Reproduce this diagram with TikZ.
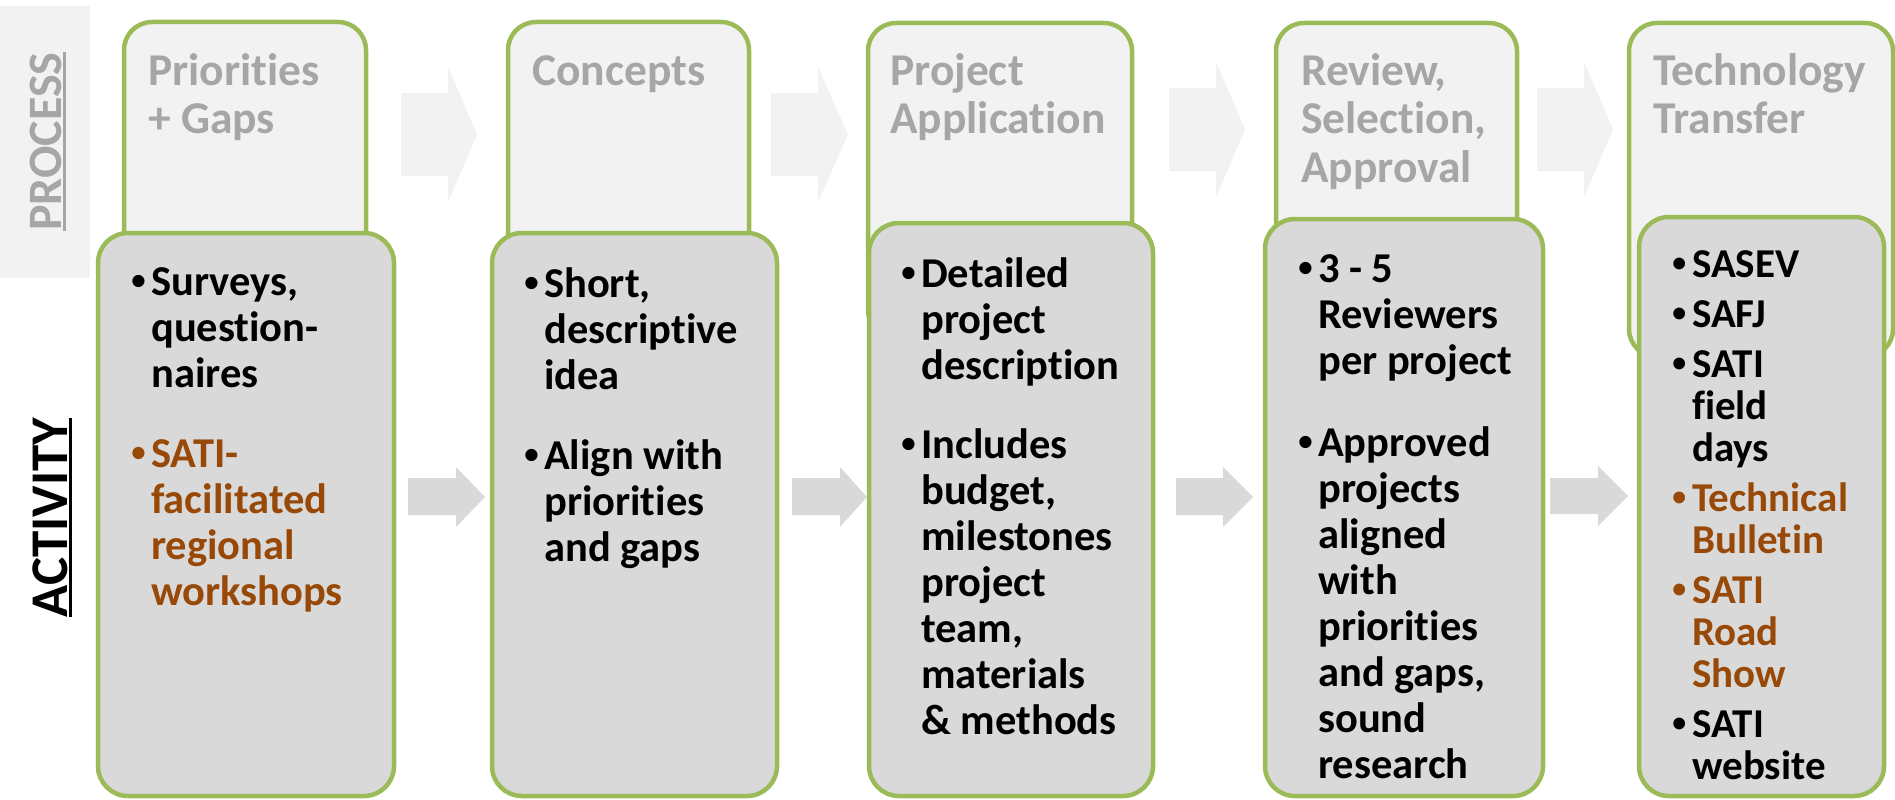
\documentclass[tikz,border=0pt]{standalone}
\usepackage{fontspec}
\setmainfont{Carlito}[Ligatures=NoCommon]
\newfontfamily\bulfont{Liberation Sans}
\definecolor{sgreen}{HTML}{9BBB59}
\definecolor{topfill}{HTML}{F2F2F2}
\definecolor{lowfill}{HTML}{D9D9D9}
\definecolor{titlegray}{HTML}{A6A6A6}
\definecolor{sbrown}{HTML}{984807}
\newcommand{\bul}{{\bulfont\char"2022}}
\newcommand{\bpar}[2][black]{\par\hangindent=20pt\hangafter=1\noindent\textcolor{#1}{\makebox[20pt][l]{\bul}#2}\par}
\newcommand{\myul}[1]{\setbox0\hbox{#1}\rlap{\rule[-5pt]{\wd0}{3pt}}\box0}
\newcommand{\boxtext}[1]{\begin{minipage}[t]{320pt}\parindent=0pt\lineskiplimit=-\maxdimen\hbadness=10000 #1\end{minipage}}
\tikzset{
  topbox/.style={draw=sgreen, line width=4.5pt, fill=topfill, rounded corners=28pt, inner sep=0pt},
  lowbox/.style={draw=sgreen, line width=4.5pt, fill=lowfill, rounded corners=30pt, inner sep=0pt},
  toparrow/.style={fill=topfill},
  lowarrow/.style={fill=lowfill},
  headtxt/.style={anchor=base west, inner sep=0pt, text=titlegray, font=\fontsize{45.5}{48.5}\selectfont\bfseries},
  lowtxt/.style={anchor=base west, inner sep=0pt, font=\fontsize{42.5}{46}\selectfont\bfseries},
  lowtxtsmall/.style={anchor=base west, inner sep=0pt, font=\fontsize{41}{42}\selectfont\bfseries},
  sidetxt/.style={anchor=base, inner sep=0pt, rotate=90}
}
\begin{document}
\begin{tikzpicture}[x=1pt, y=-1pt]
\useasboundingbox (0,0) rectangle (1895,800);
% process band
\node[fill=topfill, minimum width=90pt, minimum height=272pt, inner sep=0pt, anchor=north west] (band) at (0,6) {};
\node[sidetxt, text=titlegray, font=\fontsize{48}{52}\selectfont\bfseries] (proc) at (61,141.5) {\myul{PROCESS}};
\node[sidetxt, text=black, font=\fontsize{53}{58}\selectfont\bfseries] (act) at (67,517.5) {\myul{ACTIVITY}};
% top arrows
\fill[toparrow] (401,93) -- (448,93) -- (448,67) -- (477,134.5) -- (448,202) -- (448,176) -- (401,176) -- cycle;
\fill[toparrow] (771,93) -- (818,93) -- (818,67) -- (848,134.5) -- (818,202) -- (818,176) -- (771,176) -- cycle;
\fill[toparrow] (1169,88) -- (1216,88) -- (1216,62) -- (1245,129.5) -- (1216,197) -- (1216,171) -- (1169,171) -- cycle;
\fill[toparrow] (1537,88) -- (1584,88) -- (1584,62) -- (1613,129.5) -- (1584,197) -- (1584,171) -- (1537,171) -- cycle;
% top boxes
\node[topbox, minimum width=242pt, minimum height=278pt] (p1) at (245,161) {};
\node[topbox, minimum width=241pt, minimum height=278pt] (p2) at (628.5,161) {};
\node[topbox, minimum width=264pt, minimum height=315pt] (p3) at (1000,180.5) {};
\node[topbox, minimum width=241pt, minimum height=277pt] (p4) at (1396.5,161.5) {};
\node[topbox, minimum width=264pt, minimum height=334pt] (p5) at (1761,190) {};
% lower boxes
\node[lowbox, minimum width=296pt, minimum height=563pt] (a1) at (246,514.5) {};
\node[lowbox, minimum width=285pt, minimum height=563pt] (a2) at (634.5,514.5) {};
\node[lowbox, minimum width=284pt, minimum height=573pt] (a3) at (1011,509.5) {};
\node[lowbox, minimum width=278pt, minimum height=577pt] (a4) at (1404,507.5) {};
\node[lowbox, minimum width=245pt, minimum height=579pt] (a5) at (1761.5,506.5) {};
% lower arrows
\fill[lowarrow] (408,478) -- (456,478) -- (456,467) -- (485,497) -- (456,527) -- (456,515) -- (408,515) -- cycle;
\fill[lowarrow] (792,478) -- (840,478) -- (840,467) -- (867,497) -- (840,527) -- (840,515) -- (792,515) -- cycle;
\fill[lowarrow] (1176,478) -- (1223,478) -- (1223,467) -- (1253,497) -- (1223,527) -- (1223,515) -- (1176,515) -- cycle;
\fill[lowarrow] (1550,478) -- (1598,478) -- (1598,466) -- (1628,496) -- (1598,526) -- (1598,514) -- (1550,514) -- cycle;
% headings
\node[headtxt] (h1) at (148,85) {\boxtext{Priorities\\+ Gaps}};
\node[headtxt] (h2) at (532,85) {\boxtext{Concepts}};
\node[headtxt] (h3) at (890,85) {\boxtext{Project\\Application}};
\node[headtxt] (h4) at (1301,85) {\boxtext{Review,\\Selection,\\Approval}};
\node[headtxt] (h5) at (1653,85) {\boxtext{Technology\\Transfer}};
% activity texts
\node[lowtxt] (t1) at (131,295) {\boxtext{\bpar{Surveys,\\question-\\naires}\vspace{34pt}\bpar[sbrown]{SATI-\\facilitated\\regional\\workshops}}};
\node[lowtxt] (t2) at (524,297) {\boxtext{\bpar{Short,\\descriptive\\idea}\vspace{34pt}\bpar{Align with\\priorities\\and gaps}}};
\node[lowtxt] (t3) at (901,287) {\boxtext{\bpar{Detailed\\project\\description}\vspace{33pt}\bpar{Includes\\budget,\\milestones\\project\\team,\\materials\\\& methods}}};
\node[lowtxt] (t4) at (1298,282) {\boxtext{\bpar{3 - 5\\Reviewers\\per project}\vspace{36pt}\bpar{Approved\\projects\\aligned\\with\\priorities\\and gaps,\\sound\\research}}};
\node[lowtxtsmall] (t5) at (1672,277) {\boxtext{\bpar{SASEV}\vspace{8pt}\bpar{SAFJ}\vspace{8pt}\bpar{SATI\\field\\days}\vspace{8pt}\bpar[sbrown]{Technical\\Bulletin}\vspace{8pt}\bpar[sbrown]{SATI\\Road\\Show}\vspace{8pt}\bpar{SATI\\website}}};
\end{tikzpicture}
\end{document}
